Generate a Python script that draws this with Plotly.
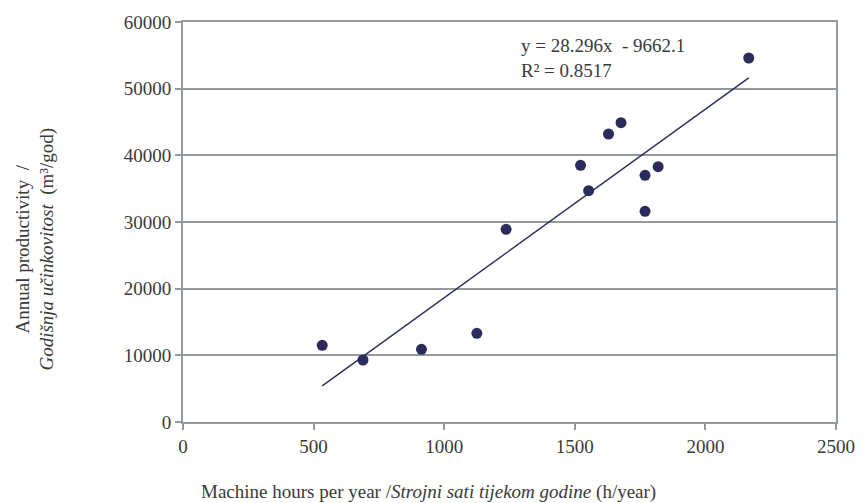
import plotly.graph_objects as go

# Machine hours per year vs annual productivity
machine_hours = [533, 689, 913, 1125, 1237, 1522, 1553, 1629, 1677, 1769, 1769, 1819, 2166]
productivity = [11500, 9300, 10900, 13300, 28900, 38500, 34700, 43200, 44900, 37000, 31600, 38300, 54600]

# Linear trend reported for the data
slope = 28.296
intercept = -9662.1
r_squared = 0.8517

x_ticks = [0, 500, 1000, 1500, 2000, 2500]
y_ticks = [0, 10000, 20000, 30000, 40000, 50000, 60000]

navy = "#2b2c5c"
grey = "#959a9e"
text_col = "#3a3a3a"
serif = "Liberation Serif, Times New Roman, serif"
fs = 19

x_lo, x_hi = min(machine_hours), max(machine_hours)

fig = go.Figure()
fig.add_trace(go.Scatter(
    x=[x_lo, x_hi],
    y=[slope * x_lo + intercept, slope * x_hi + intercept],
    mode="lines",
    line=dict(color=navy, width=1.4),
    hoverinfo="skip",
))
fig.add_trace(go.Scatter(
    x=machine_hours,
    y=productivity,
    mode="markers",
    marker=dict(color=navy, size=11, line=dict(width=0)),
))

axis_common = dict(
    showline=True,
    linecolor=grey,
    linewidth=2,
    mirror=True,
    zeroline=False,
    ticks="outside",
    ticklen=6,
    tickwidth=1.5,
    tickcolor=grey,
    tickfont=dict(family=serif, size=fs, color=text_col),
)

fig.update_layout(
    width=867,
    height=503,
    margin=dict(l=183, r=26, t=21, b=81),
    paper_bgcolor="white",
    plot_bgcolor="white",
    showlegend=False,
    font=dict(family=serif, size=fs, color=text_col),
    xaxis=dict(
        range=[0, 2500],
        tickvals=x_ticks,
        ticktext=[str(v) for v in x_ticks],
        showgrid=False,
        **axis_common,
    ),
    yaxis=dict(
        range=[0, 60000],
        tickvals=y_ticks,
        ticktext=[str(v) for v in y_ticks],
        showgrid=True,
        gridcolor=grey,
        gridwidth=1.5,
        **axis_common,
    ),
)

# Trendline equation and R²
fig.add_annotation(
    x=522, y=57, xref="paper", yref="paper",
    text=f"y = {slope}x \u00a0- {abs(intercept)}<br>R² = {r_squared}",
    showarrow=False, xanchor="left", yanchor="middle", align="left",
    font=dict(family=serif, size=fs, color=text_col),
)

# Axis titles
fig.add_annotation(
    x=199, y=492, xref="paper", yref="paper",
    text="Machine hours per year /<i>Strojni sati tijekom godine</i> (h/year)",
    showarrow=False, xanchor="left", yanchor="middle",
    font=dict(family=serif, size=fs, color=text_col),
)
fig.add_annotation(
    x=34, y=249, xref="paper", yref="paper",
    text="Annual productivity  /<br><i>Godišnja učinkovitost</i>  (m³/god)",
    showarrow=False, textangle=-90, xanchor="center", yanchor="middle",
    font=dict(family=serif, size=fs, color=text_col),
)

# Convert pixel positions of annotations into paper coordinates
W, H = 867, 503
l, r, t, b = 183, 26, 21, 81
pw, ph = W - l - r, H - t - b
for ann in fig.layout.annotations:
    ann.x = (ann.x - l) / pw
    ann.y = 1 - (ann.y - t) / ph

fig.write_html("out.html")
